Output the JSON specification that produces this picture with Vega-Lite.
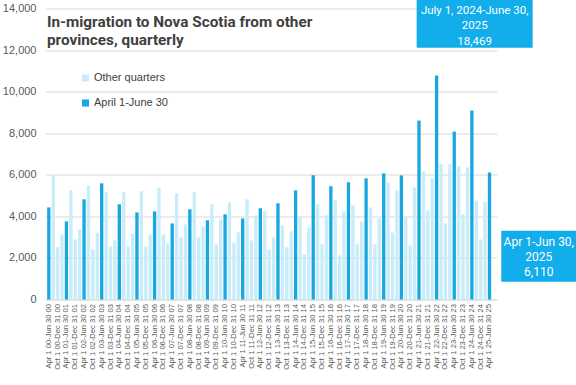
{
  "$schema": "https://vega.github.io/schema/vega-lite/v6.json",
  "autosize": {"type": "none"},
  "padding": {"left": 45, "top": 8.5, "right": 79, "bottom": 85.5},
  "width": 452,
  "height": 291,
  "background": "white",
  "title": {
    "text": ["In-migration to Nova Scotia from other", "provinces, quarterly"],
    "anchor": "start",
    "frame": "group",
    "orient": "top",
    "baseline": "top",
    "offset": -49,
    "dx": 2,
    "font": "Roboto, sans-serif",
    "fontSize": 15.3,
    "fontWeight": "bold",
    "color": "#404040",
    "lineHeight": 18
  },
  "config": {
    "view": {"stroke": null},
    "font": "Liberation Sans, sans-serif"
  },
  "datasets": {
    "q": [
      {"q": "Apr 1 00-Jun 30 00", "t": "April 1-June 30", "v": 4430},
      {"q": "Jul 1 00-Sep 30 00", "t": "Other quarters", "v": 5990},
      {"q": "Oct 1 00-Dec 31 00", "t": "Other quarters", "v": 2520},
      {"q": "Jan 1 01-Mar 31 01", "t": "Other quarters", "v": 3130},
      {"q": "Apr 1 01-Jun 30 01", "t": "April 1-June 30", "v": 3760},
      {"q": "Jul 1 01-Sep 30 01", "t": "Other quarters", "v": 5250},
      {"q": "Oct 1 01-Dec 31 01", "t": "Other quarters", "v": 2890},
      {"q": "Jan 1 02-Mar 31 02", "t": "Other quarters", "v": 3370},
      {"q": "Apr 1 02-Jun 30 02", "t": "April 1-June 30", "v": 4820},
      {"q": "Jul 1 02-Sep 30 02", "t": "Other quarters", "v": 5480},
      {"q": "Oct 1 02-Dec 31 02", "t": "Other quarters", "v": 2410},
      {"q": "Jan 1 03-Mar 31 03", "t": "Other quarters", "v": 3210},
      {"q": "Apr 1 03-Jun 30 03", "t": "April 1-June 30", "v": 5590},
      {"q": "Jul 1 03-Sep 30 03", "t": "Other quarters", "v": 5160},
      {"q": "Oct 1 03-Dec 31 03", "t": "Other quarters", "v": 2550},
      {"q": "Jan 1 04-Mar 31 04", "t": "Other quarters", "v": 2840},
      {"q": "Apr 1 04-Jun 30 04", "t": "April 1-June 30", "v": 4580},
      {"q": "Jul 1 04-Sep 30 04", "t": "Other quarters", "v": 5160},
      {"q": "Oct 1 04-Dec 31 04", "t": "Other quarters", "v": 2550},
      {"q": "Jan 1 05-Mar 31 05", "t": "Other quarters", "v": 3170},
      {"q": "Apr 1 05-Jun 30 05", "t": "April 1-June 30", "v": 4190},
      {"q": "Jul 1 05-Sep 30 05", "t": "Other quarters", "v": 5210},
      {"q": "Oct 1 05-Dec 31 05", "t": "Other quarters", "v": 2550},
      {"q": "Jan 1 06-Mar 31 06", "t": "Other quarters", "v": 3130},
      {"q": "Apr 1 06-Jun 30 06", "t": "April 1-June 30", "v": 4240},
      {"q": "Jul 1 06-Sep 30 06", "t": "Other quarters", "v": 5390},
      {"q": "Oct 1 06-Dec 31 06", "t": "Other quarters", "v": 3130},
      {"q": "Jan 1 07-Mar 31 07", "t": "Other quarters", "v": 2700},
      {"q": "Apr 1 07-Jun 30 07", "t": "April 1-June 30", "v": 3660},
      {"q": "Jul 1 07-Sep 30 07", "t": "Other quarters", "v": 5110},
      {"q": "Oct 1 07-Dec 31 07", "t": "Other quarters", "v": 2990},
      {"q": "Jan 1 08-Mar 31 08", "t": "Other quarters", "v": 3610},
      {"q": "Apr 1 08-Jun 30 08", "t": "April 1-June 30", "v": 4340},
      {"q": "Jul 1 08-Sep 30 08", "t": "Other quarters", "v": 5160},
      {"q": "Oct 1 08-Dec 31 08", "t": "Other quarters", "v": 2990},
      {"q": "Jan 1 09-Mar 31 09", "t": "Other quarters", "v": 3520},
      {"q": "Apr 1 09-Jun 30 09", "t": "April 1-June 30", "v": 3810},
      {"q": "Jul 1 09-Sep 30 09", "t": "Other quarters", "v": 4580},
      {"q": "Oct 1 09-Dec 31 09", "t": "Other quarters", "v": 2650},
      {"q": "Jan 1 10-Mar 31 10", "t": "Other quarters", "v": 3860},
      {"q": "Apr 1 10-Jun 30 10", "t": "April 1-June 30", "v": 4100},
      {"q": "Jul 1 10-Sep 30 10", "t": "Other quarters", "v": 4680},
      {"q": "Oct 1 10-Dec 31 10", "t": "Other quarters", "v": 2750},
      {"q": "Jan 1 11-Mar 31 11", "t": "Other quarters", "v": 3230},
      {"q": "Apr 1 11-Jun 30 11", "t": "April 1-June 30", "v": 3900},
      {"q": "Jul 1 11-Sep 30 11", "t": "Other quarters", "v": 4820},
      {"q": "Oct 1 11-Dec 31 11", "t": "Other quarters", "v": 2840},
      {"q": "Jan 1 12-Mar 31 12", "t": "Other quarters", "v": 4050},
      {"q": "Apr 1 12-Jun 30 12", "t": "April 1-June 30", "v": 4390},
      {"q": "Jul 1 12-Sep 30 12", "t": "Other quarters", "v": 4240},
      {"q": "Oct 1 12-Dec 31 12", "t": "Other quarters", "v": 2410},
      {"q": "Jan 1 13-Mar 31 13", "t": "Other quarters", "v": 2990},
      {"q": "Apr 1 13-Jun 30 13", "t": "April 1-June 30", "v": 4630},
      {"q": "Jul 1 13-Sep 30 13", "t": "Other quarters", "v": 3570},
      {"q": "Oct 1 13-Dec 31 13", "t": "Other quarters", "v": 2510},
      {"q": "Jan 1 14-Mar 31 14", "t": "Other quarters", "v": 3280},
      {"q": "Apr 1 14-Jun 30 14", "t": "April 1-June 30", "v": 5250},
      {"q": "Jul 1 14-Sep 30 14", "t": "Other quarters", "v": 3950},
      {"q": "Oct 1 14-Dec 31 14", "t": "Other quarters", "v": 2170},
      {"q": "Jan 1 15-Mar 31 15", "t": "Other quarters", "v": 3470},
      {"q": "Apr 1 15-Jun 30 15", "t": "April 1-June 30", "v": 5980},
      {"q": "Jul 1 15-Sep 30 15", "t": "Other quarters", "v": 4580},
      {"q": "Oct 1 15-Dec 31 15", "t": "Other quarters", "v": 2650},
      {"q": "Jan 1 16-Mar 31 16", "t": "Other quarters", "v": 4050},
      {"q": "Apr 1 16-Jun 30 16", "t": "April 1-June 30", "v": 5450},
      {"q": "Jul 1 16-Sep 30 16", "t": "Other quarters", "v": 4800},
      {"q": "Oct 1 16-Dec 31 16", "t": "Other quarters", "v": 2120},
      {"q": "Jan 1 17-Mar 31 17", "t": "Other quarters", "v": 4240},
      {"q": "Apr 1 17-Jun 30 17", "t": "April 1-June 30", "v": 5640},
      {"q": "Jul 1 17-Sep 30 17", "t": "Other quarters", "v": 4530},
      {"q": "Oct 1 17-Dec 31 17", "t": "Other quarters", "v": 2650},
      {"q": "Jan 1 18-Mar 31 18", "t": "Other quarters", "v": 3760},
      {"q": "Apr 1 18-Jun 30 18", "t": "April 1-June 30", "v": 5830},
      {"q": "Jul 1 18-Sep 30 18", "t": "Other quarters", "v": 4430},
      {"q": "Oct 1 18-Dec 31 18", "t": "Other quarters", "v": 2650},
      {"q": "Jan 1 19-Mar 31 19", "t": "Other quarters", "v": 3900},
      {"q": "Apr 1 19-Jun 30 19", "t": "April 1-June 30", "v": 6070},
      {"q": "Jul 1 19-Sep 30 19", "t": "Other quarters", "v": 5630},
      {"q": "Oct 1 19-Dec 31 19", "t": "Other quarters", "v": 3220},
      {"q": "Jan 1 20-Mar 31 20", "t": "Other quarters", "v": 5250},
      {"q": "Apr 1 20-Jun 30 20", "t": "April 1-June 30", "v": 5970},
      {"q": "Jul 1 20-Sep 30 20", "t": "Other quarters", "v": 3950},
      {"q": "Oct 1 20-Dec 31 20", "t": "Other quarters", "v": 2600},
      {"q": "Jan 1 21-Mar 31 21", "t": "Other quarters", "v": 5390},
      {"q": "Apr 1 21-Jun 30 21", "t": "April 1-June 30", "v": 8610},
      {"q": "Jul 1 21-Sep 30 21", "t": "Other quarters", "v": 6160},
      {"q": "Oct 1 21-Dec 31 21", "t": "Other quarters", "v": 4280},
      {"q": "Jan 1 22-Mar 31 22", "t": "Other quarters", "v": 5820},
      {"q": "Apr 1 22-Jun 30 22", "t": "April 1-June 30", "v": 10780},
      {"q": "Jul 1 22-Sep 30 22", "t": "Other quarters", "v": 6540},
      {"q": "Oct 1 22-Dec 31 22", "t": "Other quarters", "v": 3660},
      {"q": "Jan 1 23-Mar 31 23", "t": "Other quarters", "v": 6500},
      {"q": "Apr 1 23-Jun 30 23", "t": "April 1-June 30", "v": 8080},
      {"q": "Jul 1 23-Sep 30 23", "t": "Other quarters", "v": 6400},
      {"q": "Oct 1 23-Dec 31 23", "t": "Other quarters", "v": 4090},
      {"q": "Jan 1 24-Mar 31 24", "t": "Other quarters", "v": 6350},
      {"q": "Apr 1 24-Jun 30 24", "t": "April 1-June 30", "v": 9090},
      {"q": "Jul 1 24-Sep 30 24", "t": "Other quarters", "v": 4760},
      {"q": "Oct 1 24-Dec 31 24", "t": "Other quarters", "v": 2890},
      {"q": "Jan 1 25-Mar 31 25", "t": "Other quarters", "v": 4710},
      {"q": "Apr 1 25-Jun 30 25", "t": "April 1-June 30", "v": 6110}
    ],
    "callouts": [
      {"q": "Apr 1 24-Jun 30 24", "label": "July 1, 2024-June 30,\n2025\n18,469"}
    ],
    "callouts2": [
      {"q": "Apr 1 25-Jun 30 25", "label": "Apr 1-Jun 30,\n2025\n6,110"}
    ]
  },
  "layer": [
    {
      "data": {"name": "q"},
      "mark": {"type": "bar"},
      "encoding": {
        "x": {
          "field": "q",
          "type": "nominal",
          "sort": null,
          "scale": {"paddingInner": 0.25, "paddingOuter": 0.91, "align": 0.27},
          "axis": {
            "title": null,
            "labelAngle": -90,
            "labelFontSize": 7.6,
            "labelColor": "#595959",
            "labelExpr": "test(/^(Apr|Oct)/, datum.value) ? datum.value : ''",
            "labelOverlap": false,
            "labelPadding": 4,
            "ticks": false,
            "domainColor": "#d9d9d9",
            "grid": false
          }
        },
        "y": {
          "field": "v",
          "type": "quantitative",
          "scale": {"domain": [0, 14000], "nice": false},
          "axis": {
            "title": null,
            "values": [0, 2000, 4000, 6000, 8000, 10000, 12000, 14000],
            "format": ",.0f",
            "labelFontSize": 11,
            "labelColor": "#595959",
            "labelPadding": 9,
            "ticks": false,
            "domain": false,
            "gridColor": "#d9d9d9"
          }
        },
        "color": {
          "field": "t",
          "type": "nominal",
          "scale": {"domain": ["Other quarters", "April 1-June 30"], "range": ["#C8ECFA", "#18A7E0"]},
          "legend": {
            "title": null,
            "orient": "none",
            "legendX": 35,
            "legendY": 64,
            "direction": "vertical",
            "symbolType": "square",
            "symbolSize": 50,
            "symbolStrokeWidth": 0,
            "labelFontSize": 11,
            "labelColor": "#404040",
            "rowPadding": 13,
            "labelOffset": 3
          }
        }
      }
    },
    {
      "data": {"name": "callouts"},
      "mark": {"type": "bar", "width": 116, "xOffset": 2.8, "color": "#12ADEB"},
      "encoding": {
        "x": {"field": "q", "type": "nominal", "sort": null},
        "y": {"datum": 14420},
        "y2": {"datum": 12110}
      }
    },
    {
      "data": {"name": "callouts"},
      "mark": {"type": "text", "xOffset": 2.8, "color": "white", "align": "center", "baseline": "middle", "lineBreak": "\n", "lineHeight": 15.5, "font": "Roboto, sans-serif", "fontSize": 11.5},
      "encoding": {
        "x": {"field": "q", "type": "nominal", "sort": null},
        "y": {"datum": 13890},
        "text": {"field": "label"}
      }
    },
    {
      "data": {"name": "callouts2"},
      "mark": {"type": "bar", "width": 75, "xOffset": 49.3, "color": "#12ADEB"},
      "encoding": {
        "x": {"field": "q", "type": "nominal", "sort": null},
        "y": {"datum": 3310},
        "y2": {"datum": 856}
      }
    },
    {
      "data": {"name": "callouts2"},
      "mark": {"type": "text", "xOffset": 49.3, "color": "white", "align": "center", "baseline": "middle", "lineBreak": "\n", "lineHeight": 15.3, "font": "Roboto, sans-serif", "fontSize": 12},
      "encoding": {
        "x": {"field": "q", "type": "nominal", "sort": null},
        "y": {"datum": 2780},
        "text": {"field": "label"}
      }
    }
  ]
}
